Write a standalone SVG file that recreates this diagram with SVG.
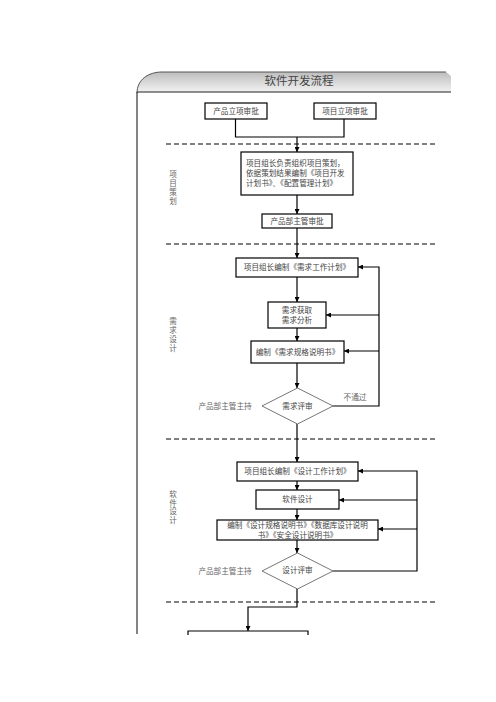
<svg xmlns="http://www.w3.org/2000/svg" width="496" height="702" viewBox="0 0 496 702">
<style>
.box{fill:#fff;stroke:#000;stroke-width:1.2}
.dia{fill:#fff;stroke:#666;stroke-width:0.9}
.t{font-family:"Liberation Serif","Noto Sans CJK SC",serif;font-size:7.6px;fill:#444;text-anchor:middle;dominant-baseline:central}
.lbl{font-family:"Liberation Serif","Noto Sans CJK SC",serif;font-size:7.6px;fill:#666;text-anchor:middle;dominant-baseline:central}
.c{fill:none;stroke:#000;stroke-width:1.2}
.dash{fill:none;stroke:#000;stroke-width:1;stroke-dasharray:5 3}
</style>
<defs>
<linearGradient id="hg" x1="0" y1="0" x2="0" y2="1">
<stop offset="0" stop-color="#bdbdbd"/>
<stop offset="1" stop-color="#f2f2f2"/>
</linearGradient>
<marker id="ar" viewBox="0 0 8 8" refX="8" refY="4" markerWidth="5" markerHeight="5" orient="auto" markerUnits="userSpaceOnUse">
<path d="M0,0 L8,4 L0,8 Z" fill="#000"/>
</marker>
</defs>
<rect width="496" height="702" fill="#fff"/>
<g id="frame">
<path d="M137,92 V92 C137,80 148,72 162,72 H446 L451,76 V92 Z" fill="url(#hg)" stroke="none"/>
<path d="M137,93 C137,80 148,72 162,72 H446" fill="none" stroke="#555" stroke-width="1"/>
<path d="M137,92 H451" stroke="#222" stroke-width="1.2"/>
<path d="M137,92 V634" stroke="#333" stroke-width="1.2"/>
<text x="299" y="81" style="font-family:'Liberation Serif','Noto Sans CJK SC',serif;font-size:11.5px;fill:#444;text-anchor:middle;dominant-baseline:central">软件开发流程</text>
</g>
<g id="dividers">
<path class="dash" d="M166,144 H437"/>
<path class="dash" d="M166,244 H437"/>
<path class="dash" d="M166,439 H437"/>
<path class="dash" d="M166,602 H437"/>
</g>
<g id="phase-labels">
<text class="lbl" x="173" y="174">项</text>
<text class="lbl" x="173" y="183">目</text>
<text class="lbl" x="173" y="192">策</text>
<text class="lbl" x="173" y="201">划</text>
<text class="lbl" x="173" y="321">需</text>
<text class="lbl" x="173" y="330">求</text>
<text class="lbl" x="173" y="339">设</text>
<text class="lbl" x="173" y="348">计</text>
<text class="lbl" x="173" y="494">软</text>
<text class="lbl" x="173" y="503">件</text>
<text class="lbl" x="173" y="511">设</text>
<text class="lbl" x="173" y="520">计</text>
</g>
<g id="connectors">
<path class="c" d="M235.5,119 V137 H344 V119"/>
<path class="c" d="M297,137 V152" marker-end="url(#ar)"/>
<path class="c" d="M297,195 V214" marker-end="url(#ar)"/>
<path class="c" d="M297,228 V258" marker-end="url(#ar)"/>
<path class="c" d="M297,277 V302" marker-end="url(#ar)"/>
<path class="c" d="M297,328 V341" marker-end="url(#ar)"/>
<path class="c" d="M297,363 V388" marker-end="url(#ar)"/>
<path class="c" d="M333,406 H379 V267 H358" marker-end="url(#ar)"/>
<path class="c" d="M379,315 H326" marker-end="url(#ar)"/>
<path class="c" d="M379,351 H344" marker-end="url(#ar)"/>
<path class="c" d="M297,424 V462" marker-end="url(#ar)"/>
<path class="c" d="M297,481 V490" marker-end="url(#ar)"/>
<path class="c" d="M297,509 V520" marker-end="url(#ar)"/>
<path class="c" d="M297,540 V553" marker-end="url(#ar)"/>
<path class="c" d="M333,571 H417 V471 H358" marker-end="url(#ar)"/>
<path class="c" d="M417,500 H339" marker-end="url(#ar)"/>
<path class="c" d="M417,529 H378" marker-end="url(#ar)"/>
<path class="c" d="M297,588 V607 H248 V631" marker-end="url(#ar)"/>
<text class="lbl" x="355" y="397">不通过</text>
<text class="lbl" x="225" y="406">产品部主管主持</text>
<text class="lbl" x="225" y="571">产品部主管主持</text>
</g>
<g id="n1"><rect class="box" x="205" y="103" width="62" height="16"/><text class="t" x="236" y="111">产品立项审批</text></g>
<g id="n2"><rect class="box" x="314" y="103" width="62" height="16"/><text class="t" x="345" y="111">项目立项审批</text></g>
<g id="n3"><rect class="box" x="241" y="152" width="112" height="43"/>
<text class="t" style="text-anchor:start" x="246" y="163">项目组长负责组织项目策划，</text>
<text class="t" style="text-anchor:start" x="246" y="173">依据策划结果编制《项目开发</text>
<text class="t" style="text-anchor:start" x="246" y="183">计划书》、《配置管理计划》</text></g>
<g id="n4"><rect class="box" x="262" y="214" width="70" height="14"/><text class="t" x="297" y="221">产品部主管审批</text></g>
<g id="n5"><rect class="box" x="236" y="258" width="122" height="19"/><text class="t" x="297" y="267.5">项目组长编制《需求工作计划》</text></g>
<g id="n6"><rect class="box" x="268" y="302" width="58" height="26"/><text class="t" x="297" y="310">需求获取</text><text class="t" x="297" y="320">需求分析</text></g>
<g id="n7"><rect class="box" x="251" y="341" width="93" height="22"/><text class="t" x="297.5" y="352">编制《需求规格说明书》</text></g>
<g id="n8"><path class="dia" d="M297.5,388 L333,406 L297.5,424 L262,406 Z"/><text class="t" x="297.5" y="406">需求评审</text></g>
<g id="n9"><rect class="box" x="237" y="462" width="121" height="19"/><text class="t" x="297.5" y="471.5">项目组长编制《设计工作计划》</text></g>
<g id="n10"><rect class="box" x="256" y="490" width="83" height="19"/><text class="t" x="297.5" y="499.5">软件设计</text></g>
<g id="n11"><rect class="box" x="217" y="520" width="161" height="20"/><text class="t" x="297.5" y="525.5">编制《设计规格说明书》《数据库设计说明</text><text class="t" x="297.5" y="535">书》《安全设计说明书》</text></g>
<g id="n12"><path class="dia" d="M297.5,553 L333,571 L297.5,589 L262,571 Z"/><text class="t" x="297.5" y="570">设计评审</text></g>
<g id="n13"><path class="c" d="M188,635 V631 H308 V635"/></g>
</svg>
